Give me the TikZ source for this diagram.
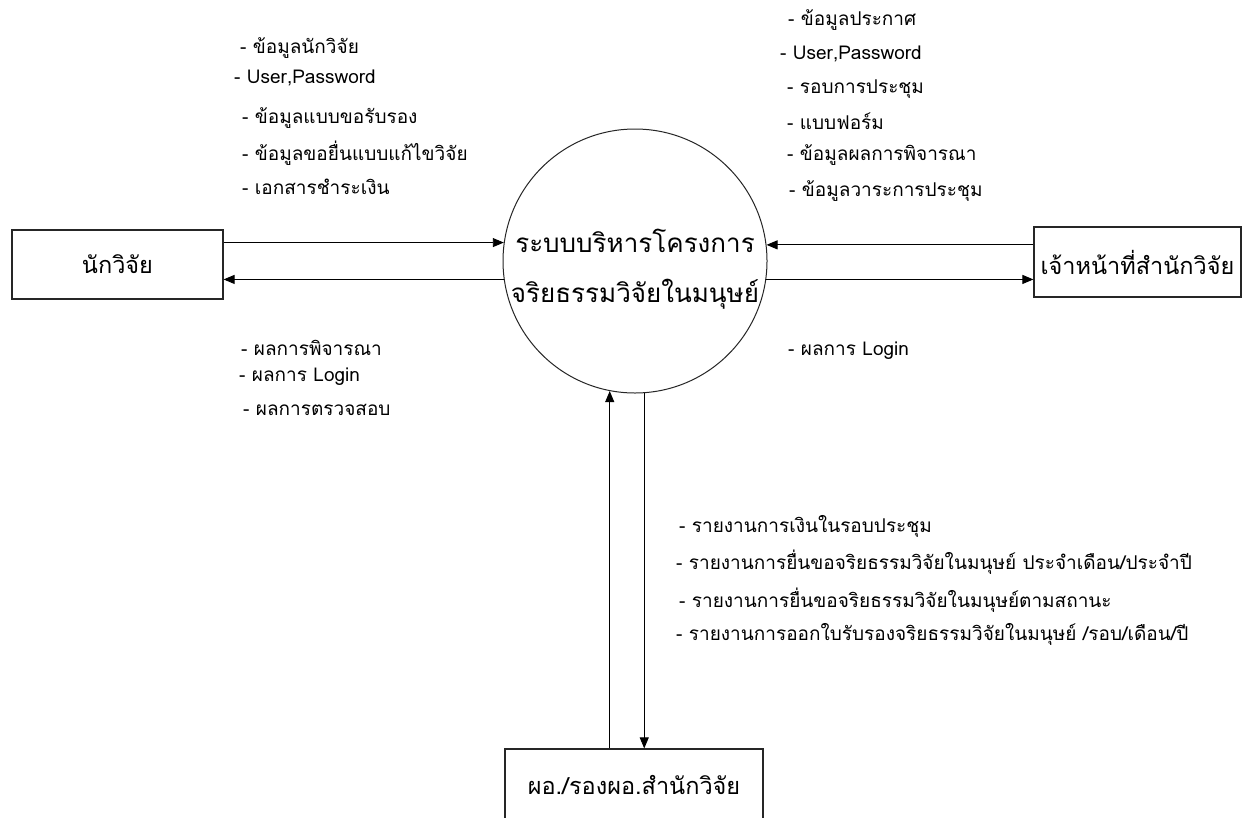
\documentclass[tikz,border=0pt]{standalone}
\usepackage{fontspec}
\newfontfamily\thai[Script=Thai]{Loma}
\usetikzlibrary{arrows.meta}
\tikzset{
  entity/.style={draw=black!85, line width=1.2pt, fill=white, minimum width=#1, minimum height=70pt, inner sep=0pt, font=\thai\fontsize{23.5}{28}\selectfont},
  proc/.style={draw=black!85, line width=1pt, circle, minimum size=264pt, inner sep=0pt},
  proctext/.style={align=center, inner sep=0pt, font=\thai\fontsize{26}{50}\selectfont},
  flow/.style={line width=0.9pt, -{Triangle[length=11pt,width=9pt]}},
  lbl/.style={anchor=west, inner sep=0pt, font=\thai\fontsize{19}{22}\selectfont}
}
\begin{document}
\begin{tikzpicture}[x=1pt,y=-1pt]
\clip (0,0) rectangle (1246,817);
\fill[white] (0,0) rectangle (1246,817);
\node[proc] (c) at (635,261) {};
\node[proctext] (ct) at ([yshift=-8pt]c.center) {ระบบบริหารโครงการ\\จริยธรรมวิจัยในมนุษย์};
\node[entity=211pt, minimum height=69pt] (lbox) at (117.5,264.5) {นักวิจัย};
\node[entity=207pt] (rbox) at (1137.5,262) {เจ้าหน้าที่สำนักวิจัย};
\node[entity=258pt, minimum height=72pt] (bbox) at (634,785) {ผอ./รองผอ.สำนักวิจัย};
% flows
\draw[flow] (lbox.east |- c.172.6) -- (c.172.6);
\draw[flow] (c.188.7) -- (lbox.east |- c.188.7);
\draw[flow] (rbox.west |- c.7.4) -- (c.7.4);
\draw[flow] (c.-8.7) -- (rbox.west |- c.-8.7);
\draw[flow] (bbox.north -| c.259.1) -- (c.259.1);
\draw[flow] (c.274.3) -- (c.274.3 |- bbox.north);
% labels left top
\node[lbl] (l1) at (240,48) {- ข้อมูลนักวิจัย};
\node[lbl] (l2) at (234,78) {- User,Password};
\node[lbl] (l3) at (242,118) {- ข้อมูลแบบขอรับรอง};
\node[lbl] (l4) at (242,153) {- ข้อมูลขอยื่นแบบแก้ไขวิจัย};
\node[lbl] (l5) at (242,187) {- เอกสารชำระเงิน};
% labels right top
\node[lbl] (r1) at (788,20) {- ข้อมูลประกาศ};
\node[lbl] (r2) at (780,54) {- User,Password};
\node[lbl] (r3) at (787,89) {- รอบการประชุม};
\node[lbl] (r4) at (787,121) {- แบบฟอร์ม};
\node[lbl] (r5) at (787,155) {- ข้อมูลผลการพิจารณา};
\node[lbl] (r6) at (789,191) {- ข้อมูลวาระการประชุม};
% labels left bottom
\node[lbl] (m1) at (241,348) {- ผลการพิจารณา};
\node[lbl] (m2) at (239,377) {- ผลการ Login};
\node[lbl] (m3) at (243,410) {- ผลการตรวจสอบ};
% label right bottom
\node[lbl] (n1) at (788,351) {- ผลการ Login};
% labels bottom
\node[lbl] (b1) at (679,526) {- รายงานการเงินในรอบประชุม};
\node[lbl] (b2) at (676,562) {- รายงานการยื่นขอจริยธรรมวิจัยในมนุษย์ ประจำเดือน/ประจำปี};
\node[lbl] (b3) at (679,600) {- รายงานการยื่นขอจริยธรรมวิจัยในมนุษย์ตามสถานะ};
\node[lbl] (b4) at (676,634) {- รายงานการออกใบรับรองจริยธรรมวิจัยในมนุษย์ /รอบ/เดือน/ปี};
\end{tikzpicture}
\end{document}
